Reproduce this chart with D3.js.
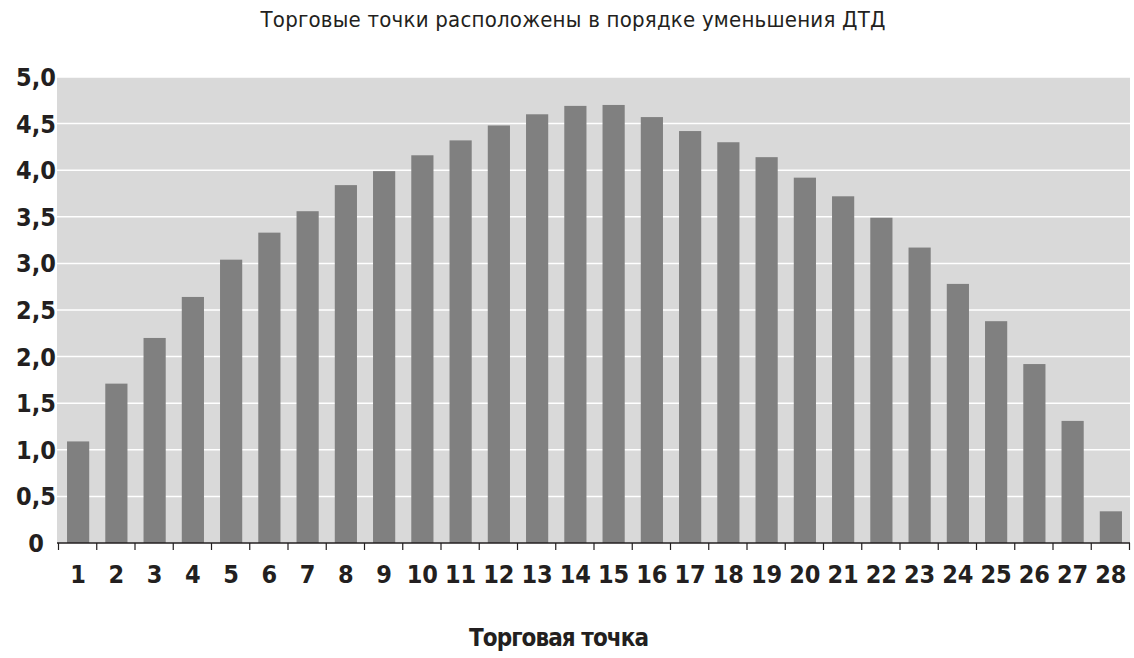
<!DOCTYPE html>
<html><head><meta charset="utf-8">
<script src="https://cdn.jsdelivr.net/npm/d3@7"></script>
<style>body{margin:0;background:#fff}</style>
</head><body>
<svg id="chart" width="1134" height="658"></svg>
<script>
// data
const points = d3.range(1, 29);
const values = [1.09,1.71,2.2,2.64,3.04,3.33,3.56,3.84,3.99,4.16,4.32,4.48,4.6,4.69,
                4.7,4.57,4.42,4.3,4.14,3.92,3.72,3.49,3.17,2.78,2.38,1.92,1.31,0.34];
const yTicks = [0,0.5,1,1.5,2,2.5,3,3.5,4,4.5,5];

const svg = d3.select('#chart');
const m = {left: 57, right: 4, top: 77, bottom: 115};
const W = 1134, H = 658;

const x = d3.scaleBand().domain(points).range([m.left + 2, W - m.right]).paddingInner(0.42).paddingOuter(0.21);
const y = d3.scaleLinear().domain([0, 5]).range([H - m.bottom, m.top]);

svg.append('rect')
    .attr('x', m.left).attr('y', m.top)
    .attr('width', W - m.right - m.left).attr('height', y(0) - m.top)
    .attr('fill', '#d9d9d9');

// gridlines
svg.append('g').selectAll('line').data(yTicks.slice(1)).join('line')
    .attr('x1', m.left).attr('x2', W - m.right)
    .attr('y1', d => y(d)).attr('y2', d => y(d))
    .attr('stroke', '#fff').attr('stroke-width', 1.5);

svg.append('g').selectAll('rect').data(values).join('rect')
    .attr('x', (d, i) => x(points[i]))
    .attr('y', d => y(d))
    .attr('width', x.bandwidth())
    .attr('height', d => y(0) - y(d))
    .attr('fill', '#808080');

// y axis labels
svg.append('g').selectAll('text').data(yTicks).join('text')
    .attr('x', 36).attr('y', d => y(d) + 9)
    .attr('text-anchor', 'middle')
    .style('font', 'bold 25px "DejaVu Sans Condensed", sans-serif')
    .style('font-stretch', 'condensed')
    .attr('fill', '#231f20')
    .text(d => d === 0 ? '0' : d3.format('.1f')(d).replace('.', ','));

// x axis
const base = y(0);
svg.append('line').attr('x1', m.left).attr('x2', W - m.right)
    .attr('y1', base).attr('y2', base).attr('stroke', '#231f20').attr('stroke-width', 1.5);
svg.append('g').selectAll('line').data(points.concat([29])).join('line')
    .attr('x1', d => x.step() * (d - 1) + x(1) - x.step() * 0.21 - 0.5)
    .attr('x2', d => x.step() * (d - 1) + x(1) - x.step() * 0.21 - 0.5)
    .attr('y1', base).attr('y2', base + 7)
    .attr('stroke', '#231f20').attr('stroke-width', 1.2);

svg.append('g').selectAll('text').data(points).join('text')
    .attr('x', d => x(d) + x.bandwidth() / 2).attr('y', 583)
    .attr('text-anchor', 'middle')
    .style('font', 'bold 25px "DejaVu Sans Condensed", sans-serif')
    .attr('fill', '#231f20')
    .text(d => d);

svg.append('text').attr('x', 573).attr('y', 27).attr('text-anchor', 'middle')
    .style('font', '22px "DejaVu Sans Condensed", sans-serif').attr('fill', '#231f20')
    .attr('textLength', 625)
    .text('Торговые точки расположены в порядке уменьшения ДТД');

svg.append('text').attr('x', 559).attr('y', 646).attr('text-anchor', 'middle')
    .style('font', 'bold 24px "DejaVu Sans Condensed", sans-serif').attr('fill', '#231f20')
    .attr('textLength', 180)
    .text('Торговая точка');
</script>
</body></html>
